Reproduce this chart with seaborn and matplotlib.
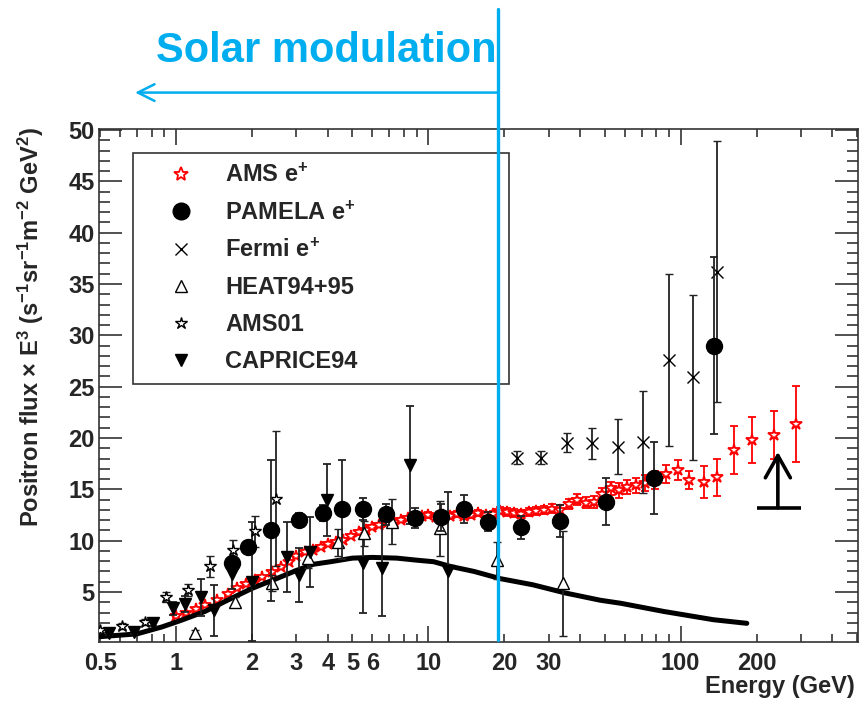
import numpy as np
import matplotlib
matplotlib.use('Agg')
import matplotlib.pyplot as plt
import seaborn as sns
from matplotlib.lines import Line2D
from matplotlib.ticker import FixedLocator, FuncFormatter, MultipleLocator
import matplotlib.transforms as mtransforms

# ---- data (energy in GeV, flux x E^3) ----
ams_e = [1.0, 1.1, 1.2, 1.3, 1.45, 1.6, 1.75, 1.9, 2.05, 2.2, 2.4, 2.6, 2.8, 3.0,
         3.25, 3.5, 3.75, 4.0, 4.3, 4.6, 4.95, 5.3, 5.65, 6.0, 6.4, 6.85, 7.3, 7.8,
         8.3, 8.85, 9.4, 10.0, 10.7, 11.4, 12.2, 13.0, 13.9, 14.8, 15.8, 16.9, 18.0,
         19.2, 20.5, 21.9, 23.4, 25.0, 26.8, 28.8, 31.0, 33.4, 36.0, 38.9, 42.0, 45.3,
         48.9, 52.9, 57.1, 61.5, 66.6, 72.5, 79.4, 87.7, 97.5, 107.8, 123.5, 139.6,
         163.5, 191.6, 234.0, 288.0]
ams_f = [2.7, 3.0, 3.3, 3.7, 4.2, 4.8, 5.4, 5.8, 6.2, 6.5, 6.9, 7.4, 7.9, 8.5,
         8.9, 9.1, 9.4, 9.7, 9.9, 10.1, 10.5, 10.8, 11.0, 11.3, 11.5, 11.7, 11.8, 12.0,
         12.2, 12.3, 12.4, 12.5, 12.3, 12.5, 12.4, 12.6, 12.4, 12.5, 12.7, 12.5, 12.6,
         12.9, 12.8, 12.7, 12.6, 12.8, 12.9, 13.0, 13.1, 13.0, 13.6, 14.0, 13.7, 13.8,
         14.5, 15.1, 14.9, 15.2, 15.4, 15.6, 15.9, 16.5, 16.9, 15.9, 15.7, 16.2,
         18.8, 19.8, 20.3, 21.4]
ams_err = [0.1, 0.1, 0.1, 0.1, 0.1, 0.1, 0.1, 0.1, 0.1, 0.1, 0.1, 0.1, 0.1, 0.1,
           0.15, 0.15, 0.15, 0.15, 0.15, 0.15, 0.15, 0.2, 0.2, 0.2, 0.2, 0.2, 0.2, 0.2,
           0.2, 0.2, 0.2, 0.25, 0.25, 0.25, 0.25, 0.25, 0.3, 0.3, 0.3, 0.3, 0.3,
           0.35, 0.35, 0.35, 0.35, 0.4, 0.4, 0.4, 0.45, 0.45, 0.5, 0.5, 0.55, 0.6,
           0.6, 0.65, 0.7, 0.7, 0.75, 0.8, 0.85, 0.9, 0.95, 0.9, 1.55, 1.8,
           2.35, 2.25, 2.35, 3.7]

pamela_e = [1.66, 1.93, 2.38, 3.06, 3.82, 4.55, 5.49, 6.81, 8.88, 11.2, 13.9, 17.2,
            23.2, 33.2, 50.7, 78.3, 135.6]
pamela_f = [7.8, 9.4, 11.0, 12.0, 12.7, 13.05, 13.08, 12.56, 12.2, 12.27, 13.1, 11.85,
            11.3, 11.9, 13.8, 16.1, 29.0]
pamela_err = [0.6, 0.6, 6.9, 0.7, 0.8, 4.8, 1.1, 1.0, 1.0, 1.3, 1.35, 0.9,
              1.1, 1.55, 2.3, 3.5, 8.6]

fermi_e = [22.4, 28.0, 35.5, 44.5, 56.4, 70.7, 89.7, 111.6, 139.0]
fermi_f = [18.1, 18.1, 19.55, 19.5, 19.15, 19.6, 27.6, 25.9, 36.2]
fermi_err = [0.6, 0.6, 0.9, 1.5, 2.7, 5.0, 8.4, 8.0, 12.7]

heat_e = [1.19, 1.71, 2.4, 3.35, 4.37, 5.54, 7.18, 11.1, 18.7, 34.2]
heat_f = [0.97, 4.05, 5.85, 8.3, 9.83, 10.7, 11.85, 11.2, 8.1, 5.85]
heat_err = [0.3, 0.5, 0.8, 1.0, 1.3, 1.2, 2.2, 2.7, 1.8, 5.1]

ams01_e = [0.5, 0.61, 0.75, 0.91, 1.12, 1.36, 1.68, 2.06, 2.49]
ams01_f = [1.3, 1.7, 2.1, 4.5, 5.2, 7.5, 9.1, 10.9, 14.1]
ams01_err = [0.2, 0.3, 0.3, 0.5, 0.6, 1.05, 1.0, 1.5, 6.6]

caprice_e = [0.54, 0.68, 0.81, 0.97, 1.09, 1.26, 1.41, 1.66, 2.0, 2.75, 3.07, 3.40,
             3.96, 5.49, 6.54, 8.48, 12.0]
caprice_f = [0.97, 1.13, 1.95, 3.4, 3.83, 4.5, 3.2, 6.8, 6.0, 8.4, 6.65, 8.9,
             13.95, 7.8, 7.3, 17.4, 7.0]
caprice_err = [0.15, 0.2, 0.3, 0.6, 0.8, 1.8, 2.5, 1.5, 5.8, 3.4, 2.6, 3.4,
               3.5, 4.8, 4.6, 5.75, 7.7]

# secondary production model curve
model_e = [0.5, 0.7, 0.88, 1.05, 1.3, 1.6, 2.0, 2.5, 3.0, 3.5, 4.1, 5.0, 6.0, 7.5,
           9.0, 10.5, 12.2, 15.2, 19.3, 26.0, 35.0, 48.0, 58.0, 86.0, 135.0, 183.0]
model_f = [0.65, 0.92, 1.6, 2.25, 3.1, 4.2, 5.35, 6.3, 7.1, 7.7, 7.95, 8.3, 8.37, 8.3,
           8.1, 7.95, 7.5, 7.0, 6.3, 5.7, 4.9, 4.2, 3.9, 3.1, 2.3, 1.95]

# lower-limit arrow and solar modulation boundary
limit_e = [200.0, 300.0]
limit_center = 243.0
limit_low, limit_high = 13.2, 18.65
solar_cut = 18.95

xtick_labels = [0.5, 1, 2, 3, 4, 5, 6, 10, 20, 30, 100, 200]
BLUE = '#00AEEF'

sns.set_style('ticks')
plt.rcParams['font.family'] = ['Liberation Sans', 'DejaVu Sans']
plt.rcParams['font.weight'] = 'bold'
plt.rcParams['mathtext.default'] = 'regular'

fig = plt.figure(figsize=(8.66, 7.01), dpi=100)
ax = fig.add_axes([99 / 866, 1 - 642 / 701, 759 / 866, 513 / 701])
ax.set_xscale('log')

ebar = dict(elinewidth=1.3, capsize=2.8, capthick=1.3, linestyle='none')

# AMS-02 positrons (red open stars)
ax.errorbar(ams_e, ams_f, yerr=ams_err, fmt='*', ms=9, mfc='white', mec='red',
            mew=1.3, ecolor='red', zorder=2, **ebar)

# model curve
sns.lineplot(x=model_e, y=model_f, ax=ax, color='black', lw=3.6, zorder=3)

ax.errorbar(heat_e, heat_f, yerr=heat_err, fmt='^', ms=8.5, mfc='white', mec='black',
            mew=1.0, ecolor='#222222', zorder=4, **ebar)
ax.errorbar(caprice_e, caprice_f, yerr=caprice_err, fmt='v', ms=9, color='black',
            ecolor='#222222', zorder=4, **ebar)
ax.errorbar(ams01_e, ams01_f, yerr=ams01_err, fmt='*', ms=9, mfc='white', mec='black',
            mew=1.0, ecolor='#222222', zorder=4, **ebar)
ax.errorbar(fermi_e, fermi_f, yerr=fermi_err, fmt='x', ms=9, mec='black', mew=1.0,
            ecolor='#222222', zorder=4, **ebar)
ax.errorbar(pamela_e, pamela_f, yerr=pamela_err, fmt='o', ms=11.5, color='black',
            ecolor='#222222', zorder=5, **ebar)

# lower-limit marker
ax.plot(limit_e, [limit_low, limit_low], color='black', lw=2.6, solid_capstyle='butt')
ax.annotate('', xy=(limit_center, limit_high), xytext=(limit_center, limit_low),
            arrowprops=dict(arrowstyle='->,head_length=1.6,head_width=0.9',
                            color='black', lw=2.6, shrinkA=0, shrinkB=0))

# solar modulation boundary
trans = mtransforms.blended_transform_factory(ax.transData, ax.transAxes)
ax.plot([solar_cut, solar_cut], [0.004, 1.234], transform=trans, color=BLUE,
        lw=2.4, clip_on=False, zorder=6)
ax.annotate('', xy=(0.688, 1.071), xytext=(solar_cut, 1.071),
            xycoords=trans, textcoords=trans,
            arrowprops=dict(arrowstyle='->,head_length=1.2,head_width=0.6',
                            color=BLUE, lw=1.8, shrinkA=0, shrinkB=0))
fig.text(497 / 866, 1 - 62 / 701, 'Solar modulation', color=BLUE, fontsize=30,
         fontweight='bold', ha='right', va='baseline')

# axes
ax.set_xlim(0.495, 505)
ax.set_ylim(0.13, 50.1)
ax.xaxis.set_major_locator(FixedLocator([0.1, 1, 10, 100, 1000]))
ax.xaxis.set_minor_locator(FixedLocator([m * 10.0 ** k for k in range(-1, 3)
                                         for m in range(2, 10)]))


def lab(v, pos):
    for t in xtick_labels:
        if abs(v - t) / t < 1e-6:
            return '%g' % t
    return ''


ax.xaxis.set_major_formatter(FuncFormatter(lab))
ax.xaxis.set_minor_formatter(FuncFormatter(lab))
ax.yaxis.set_major_locator(MultipleLocator(5))
ax.yaxis.set_minor_locator(MultipleLocator(1))

ax.tick_params(axis='both', which='both', direction='in', top=True, right=True,
               labelsize=17, width=1.1, color='#222222')
ax.tick_params(axis='x', which='major', length=11.5, pad=7)
ax.tick_params(axis='x', which='minor', length=5.8, pad=7)
ax.tick_params(axis='y', which='major', length=16.5, pad=3)
ax.tick_params(axis='y', which='minor', length=8)
for s in ax.spines.values():
    s.set_color('#333333')
    s.set_linewidth(1.2)

ax.set_ylabel(r'Positron flux $\times$ E$^{3}$ (s$^{-1}$sr$^{-1}$m$^{-2}$ GeV$^{2}$)',
              fontsize=17, fontweight='bold', loc='top')
ax.yaxis.set_label_coords(-0.07, 1.004)
ax.set_xlabel('Energy (GeV)', fontsize=17, fontweight='bold', loc='right')
ax.xaxis.set_label_coords(0.996, -0.064)

# legend
handles = [
    Line2D([], [], ls='none', marker='*', ms=10, mfc='white', mec='red', mew=1.3),
    Line2D([], [], ls='none', marker='o', ms=12, color='black'),
    Line2D([], [], ls='none', marker='x', ms=9, mec='black', mew=1.0),
    Line2D([], [], ls='none', marker='^', ms=9, mfc='white', mec='black', mew=1.0),
    Line2D([], [], ls='none', marker='*', ms=9, mfc='white', mec='black', mew=1.0),
    Line2D([], [], ls='none', marker='v', ms=9, color='black'),
]
labels = ['AMS e$^{+}$', 'PAMELA e$^{+}$', 'Fermi e$^{+}$', 'HEAT94+95', 'AMS01',
          'CAPRICE94']
leg = ax.legend(handles, labels, loc='upper left',
                bbox_to_anchor=(34 / 759, 0.0, 376 / 759, 489 / 513),
                mode='expand', fontsize=17, frameon=True, fancybox=False,
                edgecolor='#333333', framealpha=1, borderpad=0.45,
                handlelength=3.2, handletextpad=0.25, labelspacing=0.6,
                borderaxespad=0)
leg.get_frame().set_linewidth(1.2)
for t in leg.get_texts():
    t.set_fontweight('bold')

fig.savefig('out.png', dpi=100, facecolor='white')
